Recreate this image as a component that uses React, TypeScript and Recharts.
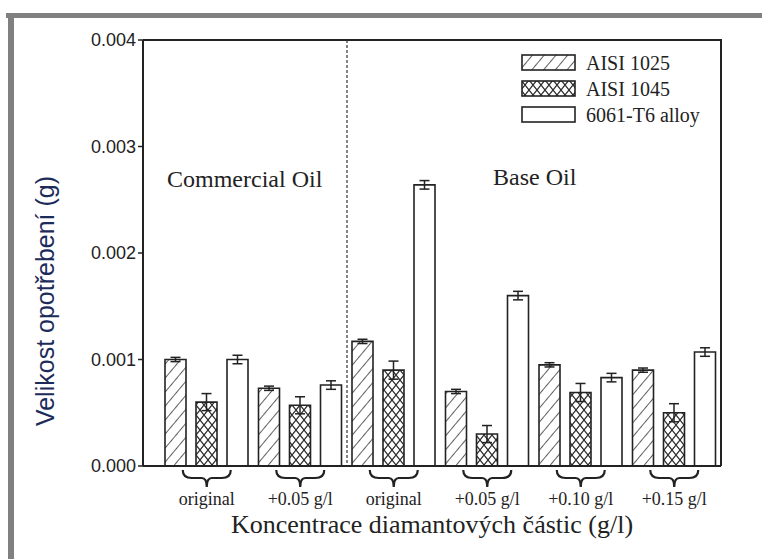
import React from 'react'
import {
  BarChart,
  Bar,
  XAxis,
  YAxis,
  ErrorBar,
  ReferenceArea,
} from 'recharts'

const groups = ['C-orig', 'C-005', 'B-orig', 'B-005', 'B-010', 'B-015']
const groupLabels = ['original', '+0.05 g/l', 'original', '+0.05 g/l', '+0.10 g/l', '+0.15 g/l']

const aisi1025 = [0.001, 0.00073, 0.00117, 0.0007, 0.00095, 0.0009]
const aisi1025Err = [0.00002, 0.00002, 0.00002, 0.00002, 0.00002, 0.00002]
const aisi1045 = [0.0006, 0.00057, 0.0009, 0.0003, 0.00069, 0.0005]
const aisi1045Err = [0.00008, 0.00008, 0.000085, 0.00008, 0.000085, 0.000085]
const alloy = [0.001, 0.00076, 0.00264, 0.0016, 0.00083, 0.00107]
const alloyErr = [0.00004, 0.00004, 0.00004, 0.00004, 0.00004, 0.00004]

const yTicks = [0, 0.001, 0.002, 0.003, 0.004]

const seriesNames = ['AISI 1025', 'AISI 1045', '6061-T6 alloy']
const seriesFills = ['url(#hatch)', 'url(#cross)', '#fff']

const data = groups.map((g, i) => ({
  group: g,
  a1025: aisi1025[i],
  e1025: aisi1025Err[i],
  a1045: aisi1045[i],
  e1045: aisi1045Err[i],
  alloy: alloy[i],
  eAlloy: alloyErr[i],
}))

const SERIF = '"Liberation Serif", "Times New Roman", serif'
const SANS = '"Liberation Sans", Arial, sans-serif'
const INK = '#222'
const LEFT_PAD = 17

// eslint-disable-next-line @typescript-eslint/no-explicit-any
const BraceTick = ({ x, y, payload }: any) => {
  const idx = groups.indexOf(payload.value)
  const t = y + 4
  return (
    <g>
      <path
        d={`M${x - 24},${t} Q${x - 24},${t + 8} ${x - 15},${t + 8} L${x - 5},${t + 8} Q${x},${t + 8} ${x},${t + 17} Q${x},${t + 8} ${x + 5},${t + 8} L${x + 15},${t + 8} Q${x + 24},${t + 8} ${x + 24},${t}`}
        fill="none"
        stroke={INK}
        strokeWidth={2.2}
      />
      <text x={x} y={y + 39} textAnchor="middle" fontFamily={SERIF} fontSize={18} fill={INK}>
        {groupLabels[idx]}
      </text>
    </g>
  )
}

// eslint-disable-next-line @typescript-eslint/no-explicit-any
const YLabel = ({ viewBox }: any) => {
  const cx = 45
  const cy = viewBox.y + viewBox.height / 2 + 48
  return (
    <text
      x={cx}
      y={cy}
      transform={`rotate(-90 ${cx} ${cy})`}
      textAnchor="middle"
      dominantBaseline="central"
      fontFamily={SANS}
      fontSize={25}
      fill="#1d2b5a"
    >
      Velikost opotřebení (g)
    </text>
  )
}

const Swatch = ({ fill }: { fill: string }) => (
  <svg width={56} height={18} style={{ display: 'block' }}>
    <rect x={1} y={1} width={53} height={15} fill={fill} stroke={INK} strokeWidth={1.6} />
  </svg>
)

const LegendBox = () => (
  <div style={{ position: 'absolute', left: 521, top: 50, fontFamily: SERIF, fontSize: 20, color: INK }}>
    {seriesNames.map((n, i) => (
      <div key={n} style={{ display: 'flex', alignItems: 'center', height: 26 }}>
        <Swatch fill={seriesFills[i]} />
        <span style={{ marginLeft: 9 }}>{n}</span>
      </div>
    ))}
  </div>
)

// eslint-disable-next-line @typescript-eslint/no-explicit-any
const DividerShape = (props: any) => {
  const { x, y, height } = props
  return (
    <line x1={x} y1={y} x2={x} y2={y + height} stroke="#333" strokeWidth={1.2} strokeDasharray="3 2" />
  )
}

// top + right border of the plot box
// eslint-disable-next-line @typescript-eslint/no-explicit-any
const FrameShape = (props: any) => {
  const { x, y, width, height } = props
  return (
    <path
      d={`M${x - LEFT_PAD},${y} L${x + width},${y} L${x + width},${y + height}`}
      fill="none"
      stroke={INK}
      strokeWidth={2}
    />
  )
}

export default function App() {
  return (
    <div style={{ position: 'absolute', left: 0, top: 0, width: 762, height: 559, background: '#fff', overflow: 'hidden' }}>
      <BarChart
        width={762}
        height={559}
        data={data}
        margin={{ top: 40, right: 41, left: 0, bottom: 0 }}
        barSize={21}
        barGap={10}
      >
        <defs>
          <pattern id="hatch" width={9} height={9} patternUnits="userSpaceOnUse" patternTransform="rotate(40)">
            <rect width={9} height={9} fill="#fff" />
            <line x1={0} y1={0} x2={0} y2={9} stroke="#2a2a2a" strokeWidth={1.5} />
          </pattern>
          <pattern id="cross" width={8} height={10} patternUnits="userSpaceOnUse">
            <rect width={8} height={10} fill="#fff" />
            <path d="M-1,-1.25 L9,11.25 M9,-1.25 L-1,11.25" stroke="#2a2a2a" strokeWidth={1.2} />
          </pattern>
        </defs>
        <XAxis
          dataKey="group"
          height={93}
          padding={{ left: LEFT_PAD, right: 0 }}
          axisLine={{ stroke: INK, strokeWidth: 2 }}
          tickLine={false}
          tickSize={0}
          tickMargin={0}
          interval={0}
          tick={<BraceTick />}
          label={{
            value: 'Koncentrace diamantových částic (g/l)',
            position: 'insideBottom',
            offset: 26,
            style: { fontFamily: SERIF, fontSize: 26, fill: INK },
          }}
        />
        <YAxis
          domain={[0, 0.004]}
          ticks={yTicks}
          width={143}
          tickSize={5}
          tickMargin={2}
          tickFormatter={(v: number) => v.toFixed(3)}
          axisLine={{ stroke: INK, strokeWidth: 2 }}
          tickLine={{ stroke: INK, strokeWidth: 1.5 }}
          tick={{ fontFamily: SANS, fontSize: 18, fill: INK }}
          label={{ content: <YLabel /> }}
        />
        <ReferenceArea y1={0} y2={0.004} ifOverflow="visible" shape={<FrameShape />} />
        <ReferenceArea x1="B-orig" x2="B-orig" ifOverflow="visible" shape={<DividerShape />} />
        <Bar dataKey="a1025" name={seriesNames[0]} fill="url(#hatch)" stroke={INK} strokeWidth={1.6} isAnimationActive={false}>
          <ErrorBar dataKey="e1025" width={5} stroke={INK} strokeWidth={1.5} />
        </Bar>
        <Bar dataKey="a1045" name={seriesNames[1]} fill="url(#cross)" stroke={INK} strokeWidth={1.6} isAnimationActive={false}>
          <ErrorBar dataKey="e1045" width={5} stroke={INK} strokeWidth={1.5} />
        </Bar>
        <Bar dataKey="alloy" name={seriesNames[2]} fill="#fff" stroke={INK} strokeWidth={1.6} isAnimationActive={false}>
          <ErrorBar dataKey="eAlloy" width={5} stroke={INK} strokeWidth={1.5} />
        </Bar>
      </BarChart>
      <LegendBox />
      <svg width={762} height={559} style={{ position: 'absolute', left: 0, top: 0, pointerEvents: 'none' }}>
        <rect x={6} y={13} width={756} height={5} fill="#808080" />
        <rect x={8} y={13} width={6} height={546} fill="#808080" />
        <text x={167} y={187} fontFamily={SERIF} fontSize={24} fill={INK}>
          Commercial Oil
        </text>
        <text x={493} y={185} fontFamily={SERIF} fontSize={24} fill={INK}>
          Base Oil
        </text>
      </svg>
    </div>
  )
}
